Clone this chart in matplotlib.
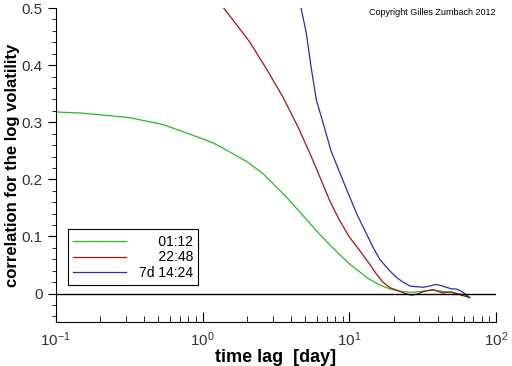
import matplotlib
matplotlib.use("Agg")
import matplotlib.pyplot as plt
from matplotlib.ticker import MultipleLocator

plt.rcParams['font.family'] = ['Liberation Sans', 'DejaVu Sans']

# time lag [day] and correlation
lag_green = [0.1, 0.15, 0.2, 0.318, 0.537, 0.906, 1.2, 1.53, 2.0, 2.58, 3.72, 4.7, 5.96, 7.7, 10,
             13.5, 16.1, 19, 22, 26.5, 31.7, 37, 45.6, 55, 61, 66]
corr_green = [0.318, 0.316, 0.313, 0.308, 0.296, 0.275, 0.263, 0.248, 0.231, 0.21, 0.169, 0.14,
              0.11, 0.08, 0.052, 0.026, 0.015, 0.008, 0.004, 0.002, 0.004, 0.006, 0.003, 0.0,
              -0.003, -0.007]

lag_red = [1.3, 1.6, 2.09, 2.7, 3.53, 4.5, 5.5, 6.44, 7.34, 8.5, 10, 11.8, 13.7, 15.2, 16.9,
           19, 22, 24, 26.5, 29, 31.7, 34, 37, 40, 43.3, 46, 49.4, 52, 55, 60, 66]
corr_red = [0.51, 0.48, 0.441, 0.395, 0.344, 0.29, 0.24, 0.198, 0.163, 0.13, 0.099, 0.075, 0.052,
            0.035, 0.02, 0.01, 0.004, 0.0, -0.003, -0.001, 0.003, 0.005, 0.007, 0.004, 0.001,
            0.002, 0.003, 0.001, -0.001, -0.004, -0.007]

lag_blue = [4.6, 5.09, 5.5, 5.96, 6.6, 7.5, 9.04, 11.2, 14.5, 16.1, 18.8, 21, 23.2, 26,
            31.7, 35, 39, 42, 45.6, 50, 53.4, 57, 61, 66]
corr_blue = [0.51, 0.456, 0.395, 0.339, 0.3, 0.25, 0.198, 0.14, 0.081, 0.06, 0.040, 0.028,
             0.020, 0.013, 0.011, 0.013, 0.016, 0.014, 0.011, 0.008, 0.008, 0.005, 0.0, -0.007]

labels = ["     01:12", "     22:48", "7d 14:24"]

fig = plt.figure(figsize=(5.12, 3.66), dpi=100)
ax = fig.add_axes([0.109, 0.120, 0.860, 0.858])

ax.plot(lag_green, corr_green, color="#22bb22", lw=0.9, label=labels[0])
ax.plot(lag_red, corr_red, color="#aa1111", lw=0.9, label=labels[1])
ax.plot(lag_blue, corr_blue, color="#2a2ab4", lw=0.9, label=labels[2])
ax.axhline(0, color="black", lw=1)

ax.set_xscale("log")
ax.set_xlim(0.1, 100)
ax.set_ylim(-0.05, 0.5)
ax.yaxis.set_major_locator(MultipleLocator(0.1))
ax.yaxis.set_minor_locator(MultipleLocator(0.02))
ax.set_yticks([0, 0.1, 0.2, 0.3, 0.4, 0.5])
ax.set_yticklabels(["0", "0.1", "0.2", "0.3", "0.4", "0.5"])

ax.spines["top"].set_visible(False)
ax.spines["right"].set_visible(False)
ax.tick_params(axis="x", which="both", direction="in", labelsize=11, pad=6, labelcolor="#333333")
ax.tick_params(axis="x", which="major", length=7)
ax.tick_params(axis="x", which="minor", length=4)
ax.tick_params(axis="y", which="both", direction="out", labelsize=11, labelcolor="#333333")
ax.tick_params(axis="y", which="major", length=6)
ax.tick_params(axis="y", which="minor", length=3)

ax.set_xlabel("time lag  [day]", fontsize=13, fontweight="bold", labelpad=0)
ax.set_ylabel("correlation for the log volatility", fontsize=12, fontweight="bold")
ax.yaxis.set_label_coords(-0.082, 0.5)

leg = ax.legend(loc="lower left", bbox_to_anchor=(0.027, 0.117), borderaxespad=0,
                fancybox=False, edgecolor="black", framealpha=1, fontsize=10,
                handlelength=3.8, labelspacing=0.1, borderpad=0.4, handletextpad=0.9)
leg.get_frame().set_linewidth(0.8)

fig.text(0.72, 0.958, "Copyright Gilles Zumbach 2012", fontsize=6.5)

plt.savefig("out.png", dpi=100)
